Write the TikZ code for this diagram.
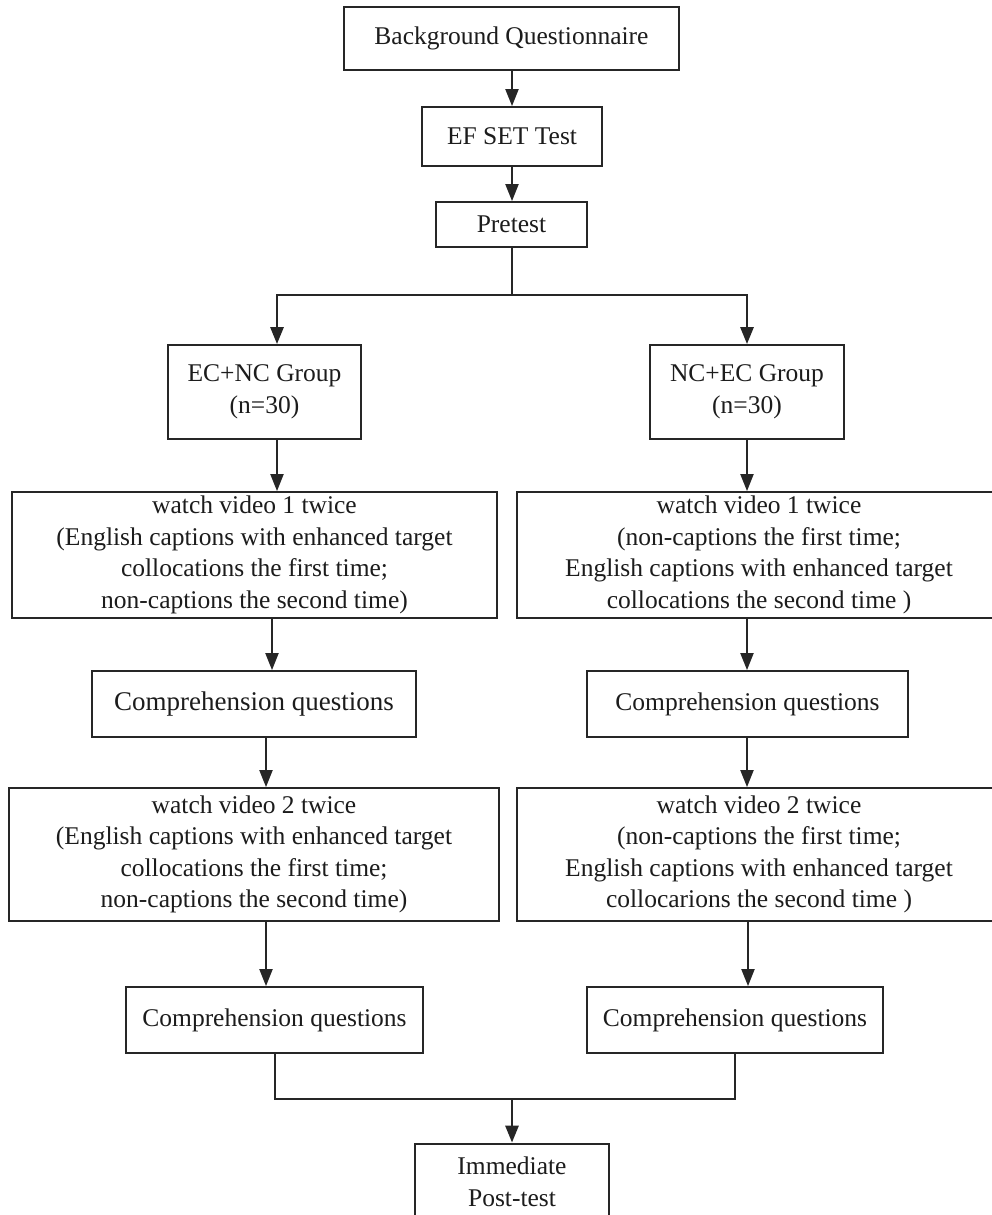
\documentclass[tikz,border=0pt]{standalone}
\usepackage{fontspec}
\setmainfont{Liberation Serif}
\usetikzlibrary{arrows.meta,calc}
\definecolor{ink}{HTML}{262626}
\definecolor{txt}{HTML}{1C1C1C}
\tikzset{
  box/.style={draw=ink, line width=1.8pt, fill=white, inner sep=0pt, align=center,
    text=txt, font=\fontsize{25.5}{31.5}\selectfont, anchor=center},
  ln/.style={draw=ink, line width=2pt},
  arr/.style={ln, -{Triangle[length=17pt,width=13pt]}},
  thk/.style={draw=ink, line width=2.8pt},
  thkarr/.style={thk, -{Triangle[length=17pt,width=13pt]}}
}
\begin{document}
\begin{tikzpicture}[x=1pt,y=-1pt]
\useasboundingbox[fill=white] (0,0) rectangle (991,1215);
% nodes
\node[box, minimum width=335pt, minimum height=63pt] (bq) at (511.5,38.5) {Background Questionnaire};
\node[box, minimum width=180pt, minimum height=59pt] (ef) at (512,136.5) {EF SET Test};
\node[box, minimum width=151pt, minimum height=45pt] (pre) at (511.5,224.5) {Pretest};
\node[box, minimum width=193pt, minimum height=94pt] (g1) at (264.5,392) {EC+NC Group\\(n=30)};
\node[box, minimum width=194pt, minimum height=94pt] (g2) at (747,392) {NC+EC Group\\(n=30)};
\node[box, minimum width=485pt, minimum height=126pt] (w1L) at (254.5,555) {watch video 1 twice\\(English captions with enhanced target\\collocations the first time;\\non-captions the second time)};
\node[box, minimum width=484pt, minimum height=126pt] (w1R) at (759,555) {watch video 1 twice\\(non-captions the first time;\\English captions with enhanced target\\collocations the second time )};
\node[box, minimum width=324pt, minimum height=66pt, font=\fontsize{27}{32}\selectfont] (c1L) at (254,704) {Comprehension questions};
\node[box, minimum width=321pt, minimum height=66pt] (c1R) at (747.5,704) {Comprehension questions};
\node[box, minimum width=490pt, minimum height=133pt] (w2L) at (254,854.5) {watch video 2 twice\\(English captions with enhanced target\\collocations the first time;\\non-captions the second time)};
\node[box, minimum width=484pt, minimum height=133pt] (w2R) at (759,854.5) {watch video 2 twice\\(non-captions the first time;\\English captions with enhanced target\\collocarions the second time )};
\node[box, minimum width=297pt, minimum height=66pt] (c2L) at (274.5,1020) {Comprehension questions};
\node[box, minimum width=296pt, minimum height=66pt] (c2R) at (735,1020) {Comprehension questions};
\node[box, line width=2.8pt, minimum width=194pt, minimum height=76pt] (imm) at (512,1182) {Immediate\\Post-test};
% helper coordinates
\coordinate (xA) at (277,0);
\coordinate (xB) at (272,0);
\coordinate (xC) at (266,0);
\coordinate (xD) at (748,0);
\coordinate (xM1) at (275,0);
\coordinate (xM2) at (735,0);
\coordinate (sp) at (512,295);
\coordinate (mg) at (512,1099);
% connectors
\draw[arr] (bq.south -| ef.north) -- (ef.north);
\draw[arr] (ef.south) -- (pre.north -| ef.south);
\draw[thk] (pre.south -| sp) -- (sp);
\draw[thkarr] (sp) -| (g1.north -| xA);
\draw[thkarr] (sp) -| (g2.north);
\draw[arr] (g1.south -| xA) -- (w1L.north -| xA);
\draw[arr] (g2.south) -- (w1R.north -| g2.south);
\draw[arr] (w1L.south -| xB) -- (c1L.north -| xB);
\draw[arr] (w1R.south -| g2.south) -- (c1R.north -| g2.south);
\draw[arr] (c1L.south -| xC) -- (w2L.north -| xC);
\draw[arr] (c1R.south -| g2.south) -- (w2R.north -| g2.south);
\draw[arr] (w2L.south -| xC) -- (c2L.north -| xC);
\draw[arr] (w2R.south -| xD) -- (c2R.north -| xD);
\draw[thk, line width=2.4pt] (c2L.south -| xM1) |- (mg) -| (c2R.south -| xM2);
\draw[thkarr] (mg) -- (imm.north);
\end{tikzpicture}
\end{document}
